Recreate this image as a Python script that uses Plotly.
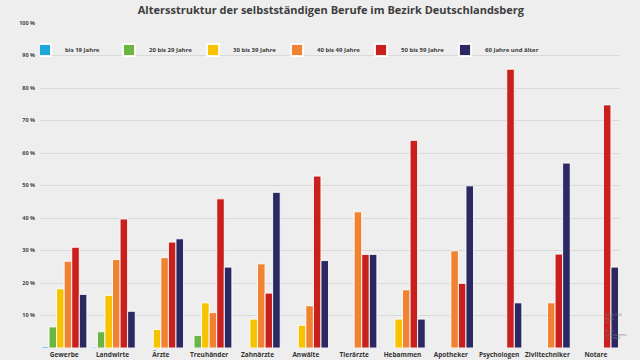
import plotly.graph_objects as go

categories = ["Gewerbe", "Landwirte", "Ärzte", "Treuhänder", "Zahnärzte", "Anwälte",
              "Tierärzte", "Hebammen", "Apotheker", "Psychologen", "Ziviltechniker", "Notare"]

series_names = ["bis 19 Jahre", "20 bis 29 Jahre", "30 bis 39 Jahre",
                "40 bis 49 Jahre", "50 bis 59 Jahre", "60 Jahre und älter"]

# None = no bar shown in the reference
bis19 = [0.5, 0.3, None, None, None, None, None, None, None, None, None, None]
j20_29 = [6.5, 5.0, None, 3.9, None, None, None, None, None, None, None, None]
j30_39 = [18.2, 16.2, 5.7, 13.9, 8.9, 7.0, None, 8.9, None, None, None, None]
j40_49 = [26.7, 27.2, 27.8, 10.9, 25.9, 13.0, 41.9, 17.9, 29.9, None, 13.9, None]
j50_59 = [31.0, 39.7, 32.6, 45.9, 16.9, 52.9, 28.8, 63.9, 19.9, 85.8, 28.9, 74.8]
j60plus = [16.5, 11.3, 33.6, 24.9, 47.9, 26.9, 28.8, 8.9, 49.9, 13.9, 56.9, 24.9]

series_values = [bis19, j20_29, j30_39, j40_49, j50_59, j60plus]
colors = ["#1ea7dc", "#6cb545", "#f7c300", "#f08232", "#c9201d", "#2b2862"]

ytick_vals = [10, 20, 30, 40, 50, 60, 70, 80, 90, 100]
ytick_text = [f"{v} %" for v in ytick_vals]

fig = go.Figure()
for name, vals, col in zip(series_names, series_values, colors):
    fig.add_trace(go.Bar(
        x=categories, y=vals, name=name,
        marker=dict(color=col, line=dict(color="rgba(255,255,255,0.9)", width=1)),
    ))

fig.update_layout(
    width=640, height=360,
    barmode="group", bargap=0.06, bargroupgap=0,
    paper_bgcolor="#eeeeee", plot_bgcolor="rgba(0,0,0,0)",
    margin=dict(l=40, r=20, t=23, b=12),
    font=dict(family="Open Sans", color="#3a3a3a"),
    title=dict(text="<b>Altersstruktur der selbstständigen Berufe im Bezirk Deutschlandsberg</b>",
               x=0.517, xanchor="center", y=0.972, yanchor="middle",
               font=dict(size=11, color="#3d3d3d", family="Open Sans")),
    legend=dict(orientation="h", x=0, xanchor="left", y=0.917, yanchor="middle",
                indentation=-15,
                font=dict(size=6, color="#3a3a3a", weight="bold"), entrywidth=54,
                entrywidthmode="pixels",
                bgcolor="rgba(0,0,0,0)", itemsizing="constant", traceorder="normal"),
    showlegend=True,
)
fig.update_xaxes(showgrid=False, showline=False, ticks="", automargin=False,
                 tickfont=dict(size=6.5, color="#333333", weight="bold"), ticklabelstandoff=1)
fig.update_yaxes(range=[0, 100], tickvals=ytick_vals, ticktext=ytick_text,
                 showgrid=True, gridcolor="#d9d9d9", gridwidth=1, zeroline=False,
                 automargin=False, ticks="", ticklabelstandoff=4,
                 tickfont=dict(size=5.5, color="#444444", weight="bold"))

fig.add_annotation(xref="paper", yref="paper", x=1.018, y=0.02, xanchor="right", yanchor="bottom",
                   text="Stand: 2024<br>Grafik:<br>2022<br><br>Quelle:<br>Landeskammer<br>Steiermark",
                   showarrow=False, align="left", font=dict(size=3, color="#777777"))

fig.write_html("out.html", config={"displayModeBar": False},
               post_script="document.body.style.margin='0';")
